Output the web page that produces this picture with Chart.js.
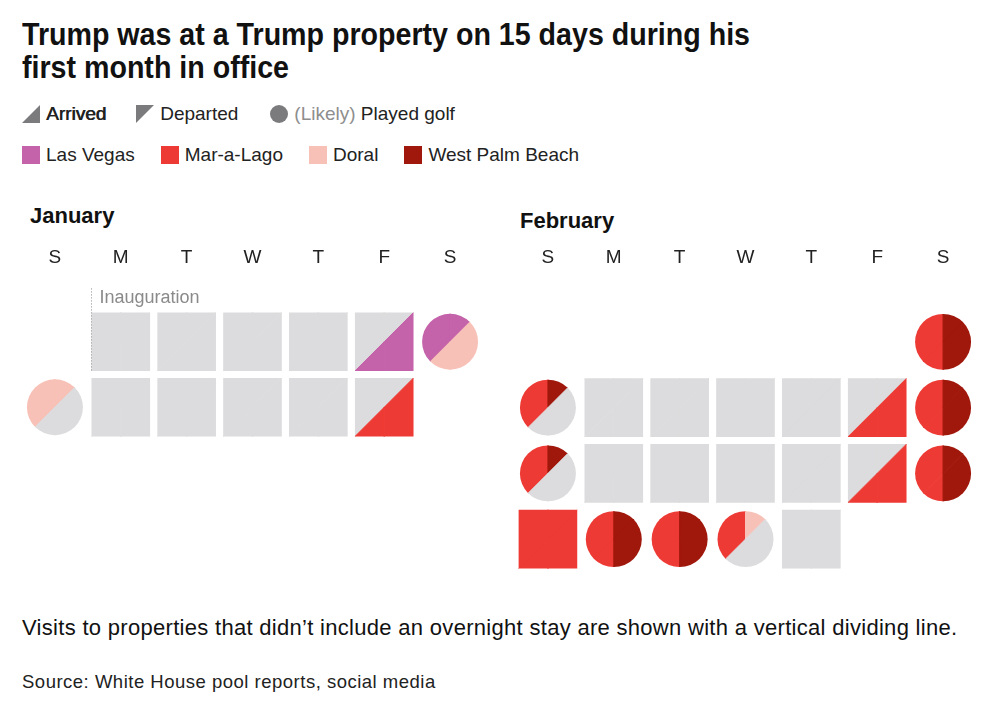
<!DOCTYPE html>
<html>
<head>
<meta charset="utf-8">
<script src="https://cdn.jsdelivr.net/npm/chart.js@4.4.1/dist/chart.umd.min.js"></script>
<style>
body{margin:0;width:1000px;height:714px;position:relative;overflow:hidden;background:#fff;font-family:"Liberation Sans",Arial,sans-serif;color:#222}
.abs{position:absolute}
#title{left:22px;top:18px;font:bold 31px/33px "Liberation Sans",Arial,sans-serif;color:#111;white-space:nowrap;transform-origin:0 0}
.legend{left:22px;display:flex;align-items:center;font-size:19px;line-height:22px;white-space:nowrap}
.legend .item{display:flex;align-items:center;margin-right:26px}
.legend svg{margin-right:6px;display:block}
.month{font-weight:bold;font-size:22px;color:#111}
#note{left:22px;top:615px;font-size:22px;letter-spacing:0.3px;color:#111;white-space:nowrap}
#source{left:22px;top:671px;font-size:18.5px;letter-spacing:0.5px;color:#222;white-space:nowrap}
</style>
</head>
<body>
<div id="title" class="abs"><span id="t1">Trump was at a Trump property on 15 days during his</span><br>first month in office</div>

<div id="legend1" class="abs legend" style="top:103px">
  <div class="item"><svg width="18" height="18"><polygon points="0,18 18,0 18,18" fill="#7b7b7e"/></svg><span style="text-shadow:0.6px 0 0 #222">Arrived</span></div>
  <div class="item" style="margin-left:4px;margin-right:32px"><svg width="18" height="18"><polygon points="0,0 18,0 0,18" fill="#7b7b7e"/></svg><span>Departed</span></div>
  <div class="item"><svg width="18" height="18"><circle cx="9" cy="9" r="9" fill="#7b7b7e"/></svg><span><span style="color:#8e8e8e">(Likely)</span> Played golf</span></div>
</div>
<div id="legend2" class="abs legend" style="top:144px"></div>

<div class="abs month" style="left:30px;top:203px">January</div>
<div class="abs month" style="left:520px;top:208px">February</div>

<div class="abs" style="left:0;top:230px"><canvas id="jan" width="500" height="220"></canvas></div>
<div class="abs" style="left:495px;top:230px"><canvas id="feb" width="505" height="355"></canvas></div>

<div id="note" class="abs">Visits to properties that didn’t include an overnight stay are shown with a vertical dividing line.</div>
<div id="source" class="abs">Source: White House pool reports, social media</div>

<script>
// calendar labels
const weekdayLabels = ["S", "M", "T", "W", "T", "F", "S"];
const places = ["Las Vegas", "Mar-a-Lago", "Doral", "West Palm Beach"];

// January 2025 (from the inauguration)
const janDates   = [20, 21, 22, 23, 24, 25, 26, 27, 28, 29, 30, 31];
const janMorning = [null, null, null, null, null, "Las Vegas", "Doral", null, null, null, null, null];
const janNight   = [null, null, null, null, "Las Vegas", "Doral", null, null, null, null, null, "Mar-a-Lago"];
const janTrip    = [null, null, null, null, null, null, null, null, null, null, null, null];
const janGolf    = [0, 0, 0, 0, 0, 1, 1, 0, 0, 0, 0, 0];

// February 2025
const febDates   = [1, 2, 3, 4, 5, 6, 7, 8, 9, 10, 11, 12, 13, 14, 15, 16, 17, 18, 19, 20];
const febMorning = ["Mar-a-Lago", "Mar-a-Lago", null, null, null, null, null, "Mar-a-Lago", "Mar-a-Lago", null,
                    null, null, null, null, "Mar-a-Lago", "Mar-a-Lago", "Mar-a-Lago", "Mar-a-Lago", "Mar-a-Lago", null];
const febNight   = ["Mar-a-Lago", null, null, null, null, null, "Mar-a-Lago", "Mar-a-Lago", null, null,
                    null, null, null, "Mar-a-Lago", "Mar-a-Lago", "Mar-a-Lago", "Mar-a-Lago", "Mar-a-Lago", null, null];
const febTrip    = ["West Palm Beach", "West Palm Beach", null, null, null, null, null, "West Palm Beach", "West Palm Beach", null,
                    null, null, null, null, "West Palm Beach", null, "West Palm Beach", "West Palm Beach", "Doral", null];
const febGolf    = [1, 1, 0, 0, 0, 0, 0, 1, 1, 0, 0, 0, 0, 0, 1, 0, 1, 1, 1, 0];

// styles
const placeColor = {
  "Las Vegas": "#c462aa",
  "Mar-a-Lago": "#ee3a34",
  "Doral": "#f8c1b7",
  "West Palm Beach": "#a0170c"
};
const emptyColor = "#dcdcde";
const fontFamily = '"Liberation Sans", Arial, sans-serif';

// condensed headline: squeeze the bold face to the original width
(function () {
  var t = document.getElementById("title"),
    w = document.getElementById("t1").getBoundingClientRect().width;
  t.style.transform = "scaleX(" + (728 / w) + ")";
}());

// legend row with the properties
document.getElementById("legend2").innerHTML = places.map(function (p) {
  return '<div class="item"><svg width="18" height="18"><rect width="18" height="18" fill="' +
    placeColor[p] + '"/></svg><span>' + p + '</span></div>';
}).join("");

function buildDays(year, month, dates, morning, night, trip, golf) {
  var first = new Date(year, month, dates[0]).getDay();
  return dates.map(function (d, i) {
    return {
      x: new Date(year, month, d).getDay(),
      y: Math.floor((d - dates[0] + first) / 7),
      morning: morning[i],
      night: night[i],
      trip: trip[i],
      golf: golf[i] === 1
    };
  });
}

// draws the day cells at the points placed by the scales
const cellPlugin = {
  id: "calendarCells",
  afterDatasetsDraw: function (chart, args, opts) {
    var ctx = chart.ctx,
      xs = chart.scales.x,
      unit = xs.getPixelForValue(1) - xs.getPixelForValue(0),
      side = unit * 0.89,
      r = unit * 0.425,
      pts = chart.getDatasetMeta(0).data,
      days = chart.data.datasets[0].data;

    pts.forEach(function (pt, i) {
      var d = days[i], cx = pt.x, cy = pt.y, regions;
      ctx.save();
      ctx.beginPath();
      if (d.golf) {
        ctx.arc(cx, cy, r, 0, Math.PI * 2);
      } else {
        ctx.rect(cx - side / 2, cy - side / 2, side, side);
      }
      ctx.clip();
      // top-left half = morning, bottom-right half = night,
      // right of the vertical line = day trip
      regions = [
        [90, 225, d.morning],
        [45, 90, d.morning ? (d.trip || d.morning) : null],
        [225, 270, d.night],
        [270, 405, d.night ? (d.trip || d.night) : null]
      ];
      regions.forEach(function (rg) {
        var col = rg[2] ? placeColor[rg[2]] : emptyColor;
        ctx.beginPath();
        ctx.moveTo(cx, cy);
        ctx.arc(cx, cy, unit, -rg[1] * Math.PI / 180, -rg[0] * Math.PI / 180);
        ctx.closePath();
        ctx.fillStyle = col;
        ctx.strokeStyle = col;
        ctx.lineWidth = 1;
        ctx.fill();
        ctx.stroke();
      });
      ctx.restore();
    });

    if (opts.marker) {
      var p = pts[opts.marker.index],
        left = Math.round(p.x - side / 2) + 0.5,
        top = p.y - side / 2;
      ctx.save();
      ctx.strokeStyle = "#8a8a8a";
      ctx.lineWidth = 1;
      ctx.setLineDash([1, 2]);
      ctx.beginPath();
      ctx.moveTo(left, top - 24);
      ctx.lineTo(left, top + side);
      ctx.stroke();
      ctx.fillStyle = "#8a8a8a";
      ctx.font = "18px " + fontFamily;
      ctx.textBaseline = "middle";
      ctx.fillText(opts.marker.label, left + 8, top - 14);
      ctx.restore();
    }
  }
};

function makeCalendar(id, days, padding, marker) {
  var rows = Math.max.apply(null, days.map(function (d) { return d.y; })) + 1;
  return new Chart(document.getElementById(id), {
    type: "scatter",
    data: { datasets: [{ data: days, pointRadius: 0, pointHoverRadius: 0 }] },
    options: {
      responsive: false,
      animation: false,
      events: [],
      layout: { padding: padding },
      plugins: {
        legend: { display: false },
        tooltip: { enabled: false },
        calendarCells: { marker: marker }
      },
      scales: {
        x: {
          type: "linear",
          position: "top",
          min: -0.5,
          max: 6.5,
          afterBuildTicks: function (s) {
            s.ticks = weekdayLabels.map(function (l, i) { return { value: i }; });
          },
          afterFit: function (s) { s.height = 63; },
          ticks: {
            callback: function (v) { return weekdayLabels[v]; },
            padding: 40,
            autoSkip: false,
            maxRotation: 0,
            color: "#222",
            font: { size: 19, family: fontFamily }
          },
          grid: { display: false, drawTicks: false },
          border: { display: false }
        },
        y: { type: "linear", min: -0.5, max: rows - 0.5, reverse: true, display: false }
      }
    },
    plugins: [cellPlugin]
  });
}

makeCalendar("jan", buildDays(2025, 0, janDates, janMorning, janNight, janTrip, janGolf),
  { left: 22, right: 17, top: 16, bottom: 10 }, { index: 0, label: "Inauguration" });
makeCalendar("feb", buildDays(2025, 1, febDates, febMorning, febNight, febTrip, febGolf),
  { left: 20, right: 24, top: 16, bottom: 13 }, null);
</script>
</body>
</html>
